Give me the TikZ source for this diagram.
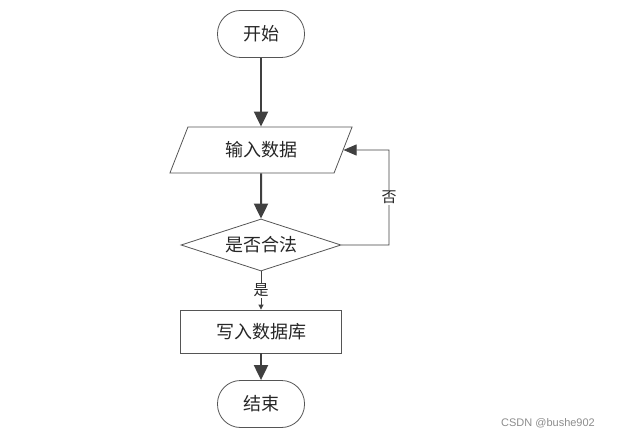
\documentclass[tikz,border=0pt]{standalone}
\usepackage{fontspec}
\newfontfamily\cjk{Noto Sans CJK SC}
\setsansfont{Liberation Sans}
\usetikzlibrary{shapes.geometric,arrows.meta}
\definecolor{ln}{HTML}{404040}
\definecolor{bd}{HTML}{555555}
\tikzset{
  txt/.style={font=\cjk\fontsize{18}{21}\selectfont, text=black!85},
  term/.style={draw=bd, line width=0.8pt, rounded corners=23pt, minimum width=87pt, minimum height=47pt, inner sep=0pt, txt},
  io/.style={draw=bd, line width=0.8pt, trapezium, trapezium left angle=62, trapezium right angle=118, trapezium stretches=true, minimum width=183pt, minimum height=46pt, inner sep=0pt, txt},
  dec/.style={draw=bd, line width=0.8pt, diamond, aspect=3.1, minimum width=160pt, minimum height=52pt, inner sep=0pt, txt},
  proc/.style={draw=bd, line width=0.8pt, minimum width=161pt, minimum height=43pt, inner sep=0pt, txt},
  flow/.style={draw=ln, line width=2pt, -{Triangle[length=15pt,width=14pt]}},
  thin/.style={draw=ln, line width=0.8pt},
  lbl/.style={fill=white, inner sep=1pt, font=\cjk\fontsize{15}{18}\selectfont, text=black!85}
}
\begin{document}
\begin{tikzpicture}[x=1pt,y=-1pt]
\useasboundingbox (0,0) rectangle (618,438);
\node[term] (start) at (261,34) {开始};
\node[io] (input) at (261,150) {输入数据};
\node[dec] (check) at (261,245) {是否合法};
\node[proc] (write) at (261,331.5) {写入数据库};
\node[term] (stop) at (261,404) {结束};
\draw[flow] (start) -- (input);
\draw[flow] (input) -- (check);
\coordinate (c1) at (389,245);
\coordinate (c2) at (389,150);
\draw[thin, -{Triangle[length=13pt,width=11pt]}] (check.east) -- (c1) -- node[lbl, pos=0.5] {否} (c2) -- (input.east);
\draw[thin, -{Triangle[length=5pt,width=5pt]}] (check.south) -- node[lbl, pos=0.5] {是} (write.north);
\draw[flow] (write) -- (stop);
\node[text=black!45, font=\sffamily\fontsize{11}{13}\selectfont] (wm) at (548,423) {CSDN @bushe902};
\end{tikzpicture}
\end{document}
